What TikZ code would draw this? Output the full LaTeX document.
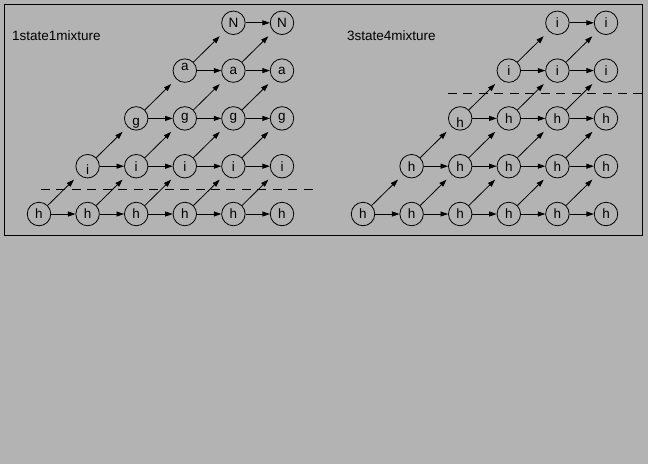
\documentclass[tikz,border=0pt]{standalone}
\usepackage{fontspec}
\setmainfont{Liberation Sans}
\usetikzlibrary{arrows.meta}
\definecolor{figgray}{RGB}{179,179,179}
\tikzstyle{state}=[circle,draw,line width=0.8pt,minimum size=23.5pt,inner sep=0pt,font=\fontsize{13.5}{15}\selectfont]
\tikzstyle{hop}=[draw,line width=0.8pt,-{Triangle[length=7.5pt,width=5pt]}]
\tikzstyle{jump}=[hop,shorten >=7pt]
\tikzstyle{cut}=[draw,line width=0.8pt,dash pattern=on 9pt off 6.45pt]
\tikzstyle{title}=[anchor=west,inner sep=0pt,font=\fontsize{13.5}{15}\selectfont]

\begin{document}
\begin{tikzpicture}[x=1pt,y=-1pt]
    % background and frame
    \fill[figgray] (0,0) rectangle (648,464);
    \draw[line width=1pt] (4.5,4.5) rectangle (642.5,235.5);

    % titles
    \node[title] (titleL) at (12,36) {1state1mixture};
    \node[title] (titleR) at (347,36) {3state4mixture};

    % left lattice: one row per label, first node of a row drawn with its text lifted
    \foreach \r/\lab/\sh in {0/h/0, 1/i/-3, 2/g/-5, 3/a/4, 4/N/0}
        \foreach \c in {\r,...,5} {
            \pgfmathsetmacro\lift{\c==\r ? \sh : 0}
            \node[state] (L-\r-\c) at ({39+48.6*\c},{214-47.8*\r})
                {\raisebox{\lift pt}[\height][\depth]{\lab}};
        }

    % right lattice
    \foreach \r/\lab/\sh in {0/h/0, 1/h/0, 2/h/-4, 3/i/0, 4/i/0}
        \foreach \c in {\r,...,5} {
            \pgfmathsetmacro\lift{\c==\r ? \sh : 0}
            \node[state] (R-\r-\c) at ({363+48.6*\c},{214-47.8*\r})
                {\raisebox{\lift pt}[\height][\depth]{\lab}};
        }

    % edges along each row and up the diagonals
    \foreach \side in {L,R}
        \foreach \r in {0,...,4}
            \foreach \c in {\r,...,4} {
                \pgfmathtruncatemacro\n{\c+1}
                \pgfmathtruncatemacro\u{\r+1}
                \path[hop] (\side-\r-\c) -- (\side-\r-\n);
                \ifnum\r<4
                    \path[jump] (\side-\r-\c) -- (\side-\u-\n);
                \fi
            }

    % dashed separators
    \path[cut] (41,189) -- (313,189);
    \path[cut] (448,93) -- (642,93);
\end{tikzpicture}
\end{document}
